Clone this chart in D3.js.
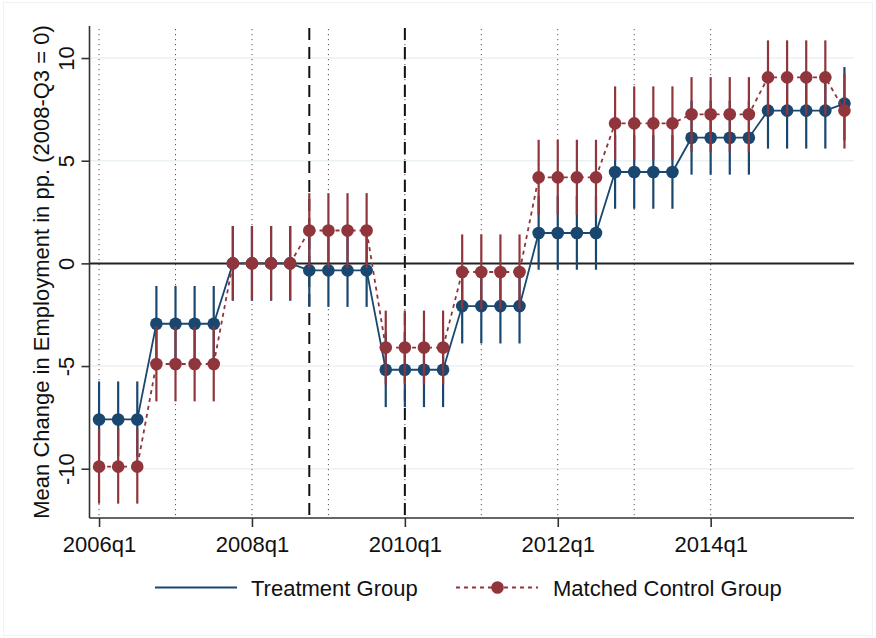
<!DOCTYPE html>
<html><head><meta charset="utf-8">
<script src="https://cdn.jsdelivr.net/npm/d3@7"></script>
<style>body{margin:0;background:#fff;} text{font-family:"Liberation Sans",Arial,sans-serif;}</style>
</head><body><svg id="c" width="876" height="638"></svg>
<script>
// quarter index 0 = 2006q1 ... 39 = 2015q4
const quarters = d3.range(40);
const treatment = [-7.6,-7.6,-7.6,-2.94,-2.94,-2.94,-2.94,0,0,0,0,-0.34,-0.34,-0.34,-0.34,-5.18,-5.18,-5.18,-5.18,-2.08,-2.08,-2.08,-2.08,1.48,1.48,1.48,1.48,4.45,4.45,4.45,4.45,6.12,6.12,6.12,6.12,7.44,7.44,7.44,7.44,7.78];
const treatLo = [-9.4,-9.4,-9.4,-4.77,-4.77,-4.77,-4.77,-1.82,-1.82,-1.82,-1.82,-2.12,-2.12,-2.12,-2.12,-7.0,-7.0,-7.0,-7.0,-3.9,-3.9,-3.9,-3.9,-0.31,-0.31,-0.31,-0.31,2.66,2.66,2.66,2.66,4.32,4.32,4.32,4.32,5.59,5.59,5.59,5.59,5.99];
const treatHi = [-5.75,-5.75,-5.75,-1.1,-1.1,-1.1,-1.1,1.82,1.82,1.82,1.82,1.44,1.44,1.44,1.44,-3.36,-3.36,-3.36,-3.36,-0.26,-0.26,-0.26,-0.26,3.27,3.27,3.27,3.27,6.24,6.24,6.24,6.24,7.92,7.92,7.92,7.92,9.24,9.24,9.24,9.24,9.56];
const control = [-9.9,-9.9,-9.9,-4.9,-4.9,-4.9,-4.9,0,0,0,0,1.6,1.6,1.6,1.6,-4.1,-4.1,-4.1,-4.1,-0.42,-0.42,-0.42,-0.42,4.19,4.19,4.19,4.19,6.82,6.82,6.82,6.82,7.26,7.26,7.26,7.26,9.06,9.06,9.06,9.06,7.44];
const ctrlLo = [-11.7,-11.7,-11.7,-6.72,-6.72,-6.72,-6.72,-1.8,-1.8,-1.8,-1.8,-0.22,-0.22,-0.22,-0.22,-5.9,-5.9,-5.9,-5.9,-2.24,-2.24,-2.24,-2.24,2.37,2.37,2.37,2.37,5.02,5.02,5.02,5.02,5.42,5.42,5.42,5.42,7.24,7.24,7.24,7.24,5.59];
const ctrlHi = [-8.05,-8.05,-8.05,-3.08,-3.08,-3.08,-3.08,1.82,1.82,1.82,1.82,3.42,3.42,3.42,3.42,-2.3,-2.3,-2.3,-2.3,1.41,1.41,1.41,1.41,6.02,6.02,6.02,6.02,8.62,8.62,8.62,8.62,9.07,9.07,9.07,9.07,10.86,10.86,10.86,10.86,9.24];
const xTickQuarters = [0,8,16,24,32];
const xTickLabels = ["2006q1","2008q1","2010q1","2012q1","2014q1"];
const yTicks = [-10,-5,0,5,10];
const yearLines = [0,4,8,12,16,20,24,28,32];
const eventLines = [11,16];
const seriesNames = ["Treatment Group","Matched Control Group"];
const yTitle = "Mean Change in Employment in pp. (2008-Q3 = 0)";

const blue = "#1a476f", red = "#90353b";
const FS = 22;
const svg = d3.select("#c");
const L = 89.5, R = 854, T = 26, B = 518;
const x = d3.scaleLinear().domain([-0.5, 39.5]).range([L, R]);
const y = d3.scaleLinear().domain([-12.4, 11.56]).range([B, T]);

svg.append("rect").attr("x",3.5).attr("y",2.5).attr("width",869).attr("height",633).attr("fill","none").attr("stroke","#f0f2f4");

// gridlines
svg.append("g").selectAll("line").data(yTicks.filter(d=>d!==0)).join("line")
  .attr("x1",L).attr("x2",R).attr("y1",d=>y(d)).attr("y2",d=>y(d))
  .attr("stroke","#eaf2f3").attr("stroke-width",1.5);

// year dotted lines
svg.append("g").selectAll("line").data(yearLines).join("line")
  .attr("x1",d=>x(d)).attr("x2",d=>x(d)).attr("y1",29).attr("y2",B)
  .attr("stroke","#555").attr("stroke-width",1).attr("stroke-dasharray","1.2,3.8");
// event dashed lines
svg.append("g").selectAll("line").data(eventLines).join("line")
  .attr("x1",d=>x(d)).attr("x2",d=>x(d)).attr("y1",28).attr("y2",B)
  .attr("stroke","#111").attr("stroke-width",2).attr("stroke-dasharray","12,7");

// zero line
svg.append("line").attr("x1",L).attr("x2",R).attr("y1",y(0)).attr("y2",y(0)).attr("stroke","#222").attr("stroke-width",2);

// axes
const yAxis = svg.append("g").attr("transform",`translate(${L},0)`)
  .call(d3.axisLeft(y).tickValues(yTicks).tickSize(8).tickFormat(d3.format("d")));
yAxis.select(".domain").attr("d",`M0,${T}V${B}`).attr("stroke","#333").attr("stroke-width",1.6);
yAxis.selectAll(".tick line").attr("stroke","#333").attr("stroke-width",1.6);
yAxis.selectAll(".tick text").attr("transform","rotate(-90)").attr("x",0).attr("y",-16)
  .attr("dy",0).attr("text-anchor","middle").attr("font-size",FS).attr("fill","#111")
  .text(d=>d<0? "-"+Math.abs(d) : d);

const xAxis = svg.append("g").attr("transform",`translate(0,${B})`)
  .call(d3.axisBottom(x).tickValues(xTickQuarters).tickSize(9).tickFormat((d,i)=>xTickLabels[i]));
xAxis.select(".domain").attr("d",`M${L},0H${R}`).attr("stroke","#333").attr("stroke-width",1.6);
xAxis.selectAll(".tick line").attr("stroke","#333").attr("stroke-width",1.6);
xAxis.selectAll(".tick text").attr("y",34).attr("dy",0).attr("font-size",FS).attr("fill","#111");

svg.append("text").attr("transform",`translate(49,${(T+B)/2}) rotate(-90)`)
  .attr("text-anchor","middle").attr("font-size",FS).attr("fill","#111").text(yTitle);

// series
function drawSeries(vals, lo, hi, color, dashed){
  const g = svg.append("g");
  g.selectAll("line.ci").data(quarters).join("line").attr("class","ci")
    .attr("x1",d=>x(d)).attr("x2",d=>x(d)).attr("y1",d=>y(lo[d])).attr("y2",d=>y(hi[d]))
    .attr("stroke",color).attr("stroke-width",2.2);
  g.append("path").datum(quarters)
    .attr("d",d3.line().x(d=>x(d)).y(d=>y(vals[d])))
    .attr("fill","none").attr("stroke",color).attr("stroke-width",1.8)
    .attr("stroke-dasharray",dashed?"4,4":null);
  g.selectAll("circle").data(quarters).join("circle")
    .attr("cx",d=>x(d)).attr("cy",d=>y(vals[d])).attr("r",6.3).attr("fill",color);
}
drawSeries(treatment, treatLo, treatHi, blue, false);
drawSeries(control, ctrlLo, ctrlHi, red, true);

// legend
const ly = 587.5;
svg.append("line").attr("x1",155).attr("x2",237).attr("y1",ly).attr("y2",ly).attr("stroke",blue).attr("stroke-width",1.8);
svg.append("text").attr("x",251).attr("y",ly+8).attr("font-size",FS).attr("fill","#111").text(seriesNames[0]);
svg.append("line").attr("x1",456).attr("x2",538).attr("y1",ly).attr("y2",ly).attr("stroke",red).attr("stroke-width",1.8).attr("stroke-dasharray","4,4");
svg.append("circle").attr("cx",497.5).attr("cy",ly).attr("r",6.3).attr("fill",red);
svg.append("text").attr("x",553).attr("y",ly+8).attr("font-size",FS).attr("fill","#111").text(seriesNames[1]);
</script></body></html>
